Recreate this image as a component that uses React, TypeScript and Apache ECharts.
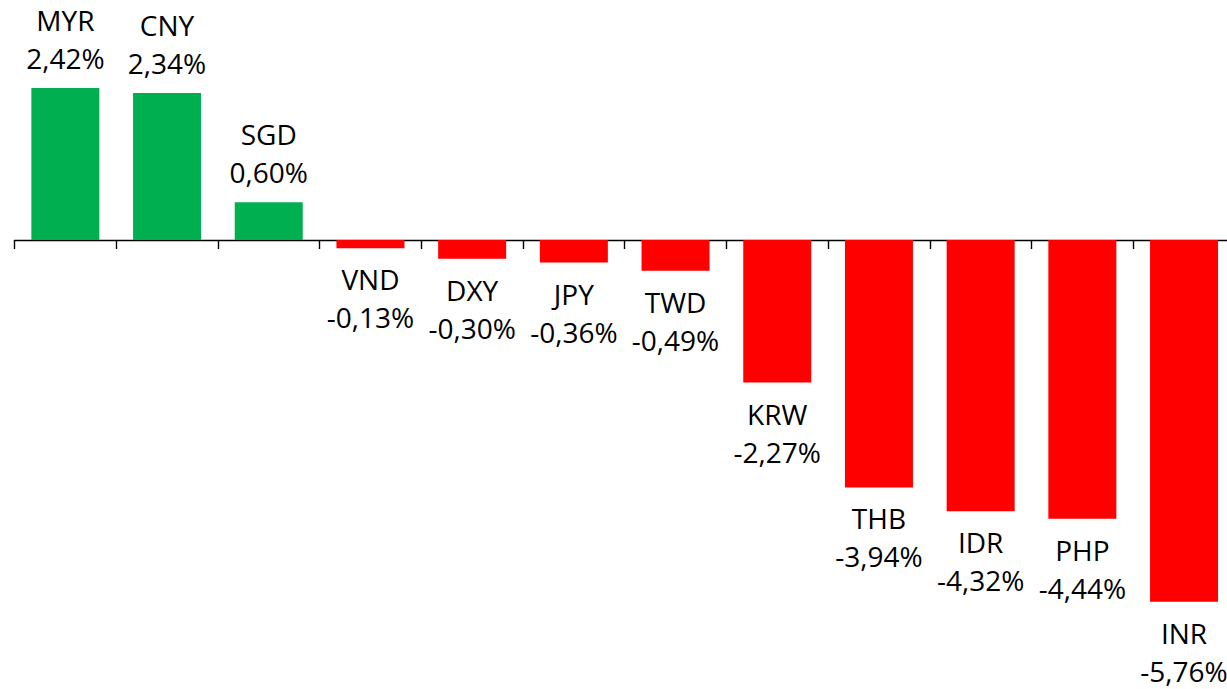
import React, { useEffect, useRef } from "react";
import * as echarts from "echarts";

const categories = ["MYR", "CNY", "SGD", "VND", "DXY", "JPY", "TWD", "KRW", "THB", "IDR", "PHP", "INR"];
const values = [2.42, 2.34, 0.6, -0.13, -0.3, -0.36, -0.49, -2.27, -3.94, -4.32, -4.44, -5.76];

const POS_COLOR = "#00B050";
const NEG_COLOR = "#FF0000";

export default function App() {
  const ref = useRef<HTMLDivElement>(null);
  useEffect(() => {
    if (!ref.current) return;
    const chart = echarts.init(ref.current, null, { renderer: "svg" });
    const fmt = (v: number) => v.toFixed(2).replace(".", ",") + "%";
    chart.setOption({
      animation: false,
      grid: { left: 14.5, right: 1.1, top: 51.6, bottom: 72.2 },
      xAxis: {
        type: "category",
        data: categories,
        axisLine: { show: true, onZero: true, lineStyle: { color: "#000", width: 1.4 } },
        axisTick: { show: true, length: 9, lineStyle: { color: "#000", width: 1.4 } },
        axisLabel: { show: false },
      },
      yAxis: {
        type: "value",
        min: -6,
        max: 3,
        show: false,
        splitLine: { show: false },
      },
      series: [
        {
          type: "bar",
          barWidth: 68,
          data: values.map((v, i) => ({
            value: v,
            itemStyle: { color: v >= 0 ? POS_COLOR : NEG_COLOR },
            label: {
              show: true,
              position: v >= 0 ? "top" : "bottom",
              distance: v >= 0 ? 11 : 12,
              formatter: () => categories[i] + "\n" + fmt(v),
              fontFamily: "Open Sans",
              fontSize: 28,
              lineHeight: 38,
              color: "#000",
              align: "center",
            },
          })),
        },
      ],
    });
    return () => chart.dispose();
  }, []);
  return (
    <div style={{ position: "fixed", left: 0, top: 0, width: 1227, height: 689, overflow: "hidden", background: "#fff" }}>
      <div ref={ref} style={{ width: 1236, height: 689 }} />
    </div>
  );
}
